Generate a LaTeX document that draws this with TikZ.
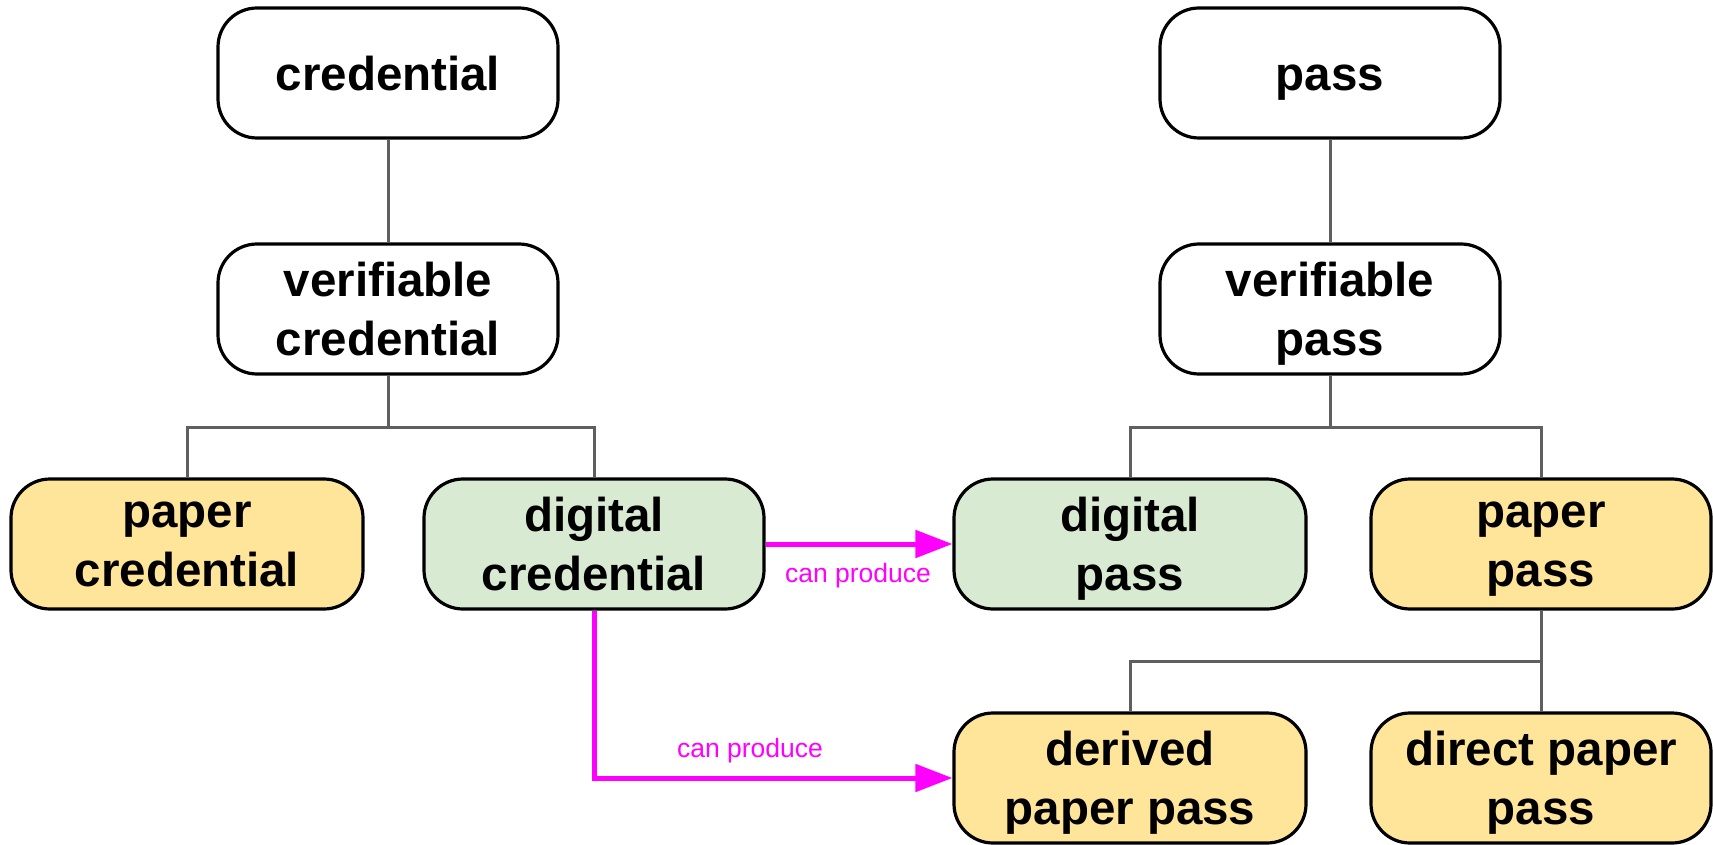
\documentclass[tikz,border=0pt]{standalone}
\usepackage{fontspec}
\setmainfont{Liberation Sans}
\usetikzlibrary{arrows.meta}
\definecolor{paperfill}{HTML}{FFE599}
\definecolor{digitalfill}{HTML}{D9EAD3}
\definecolor{linkgray}{HTML}{5F5F5F}
\definecolor{producemag}{HTML}{FF00FF}
\begin{document}
\begin{tikzpicture}[x=0.5pt,y=-0.5pt,
    box/.style={draw=black, line width=1.6pt, rounded corners=19.5pt, fill=white,
      minimum width=170pt, minimum height=65pt, inner sep=0pt, align=center,
      font=\fontsize{23.75}{29.5}\selectfont\bfseries,
      execute at begin node={\rule{0pt}{17.3pt}}, text depth=0pt},
    wide/.style={minimum width=176pt},
    paper/.style={box, fill=paperfill},
    digital/.style={box, fill=digitalfill},
    link/.style={draw=linkgray, line width=1.5pt},
    produce/.style={draw=producemag, line width=2.5pt, -{Triangle[length=18.5pt,width=13.5pt]}},
    producelabel/.style={text=producemag, font=\fontsize{13.25}{16}\selectfont, inner sep=0pt, anchor=base}]
  \useasboundingbox (0,0) rectangle (1713,845);
  % credential side
  \node[box](cred)at(388,73){credential};
  \node[box](vcred)at(388,309){verifiable\\credential};
  \node[paper,wide](pcred)at(187,544){paper\\credential};
  \node[digital](dcred)at(594,544){digital\\credential};
  % pass side
  \node[box](pass)at(1330,73){pass};
  \node[box](vpass)at(1330,309){verifiable\\pass};
  \node[digital,wide](dpass)at(1130,544){digital\\pass};
  \node[paper](ppass)at(1541,544){paper\\pass};
  \node[paper,wide](dppass)at(1130,778){derived\\paper pass};
  \node[paper](drpass)at(1541,778){direct paper\\pass};
  % tree lines
  \draw[link](cred)--(vcred);
  \draw[link](pass)--(vpass);
  \draw[link](vcred.south)--++(0,52)coordinate(jc) (jc)-|(pcred.north) (jc)-|(dcred.north);
  \draw[link](vpass.south)--++(0,52)coordinate(jp) (jp)-|(dpass.north) (jp)-|(ppass.north);
  \draw[link](ppass.south)--++(0,51)coordinate(jd) (jd)-|(dppass.north) (jd)--(drpass.north);
  % can produce
  \draw[produce](dcred.east)--(dpass.west);
  \draw[produce](dcred.south)|-(dppass.west);
  \node[producelabel](lab1)at(858,582){can produce};
  \node[producelabel](lab2)at(750,757){can produce};
\end{tikzpicture}
\end{document}
